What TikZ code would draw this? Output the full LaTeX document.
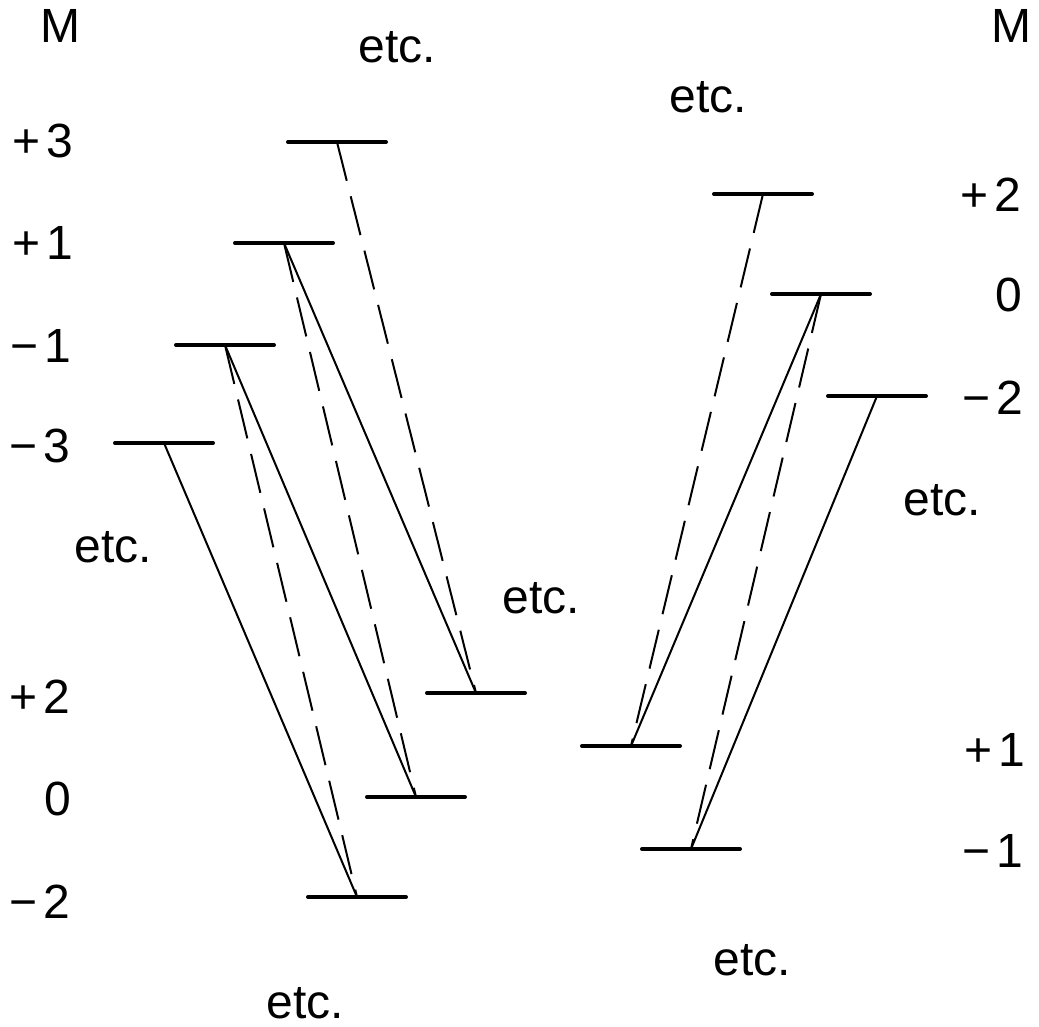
\documentclass[tikz,border=0pt]{standalone}
\usepackage{fontspec}
\setmainfont{Liberation Sans}
\newcommand{\sg}[2]{#1\hspace{3pt}#2}
\begin{document}
\begin{tikzpicture}[x=0.5pt,y=-0.5pt,
  lev/.style={draw, line width=2pt, line join=round, line cap=round,
    minimum width=49pt, minimum height=0pt, inner sep=0pt, outer sep=0pt},
  solidcon/.style={line width=1pt},
  dashcon/.style={line width=1pt, dash pattern=on 20pt off 8pt},
  lbl/.style={font=\fontsize{24}{29}\selectfont, inner sep=0pt}]
\useasboundingbox (0,0) rectangle (1039,1027);
\fill[white] (0,0) rectangle (1039,1027);
% left group, upper levels
\node[lev] (L3)  at (337,142) {};
\node[lev] (L1)  at (284,243) {};
\node[lev] (Lm1) at (225,345) {};
\node[lev] (Lm3) at (164,443) {};
% left group, lower levels
\node[lev] (B2)  at (476,693) {};
\node[lev] (B0)  at (416,797) {};
\node[lev] (Bm2) at (357,897) {};
% right group, upper levels
\node[lev] (R2)  at (763,194) {};
\node[lev] (R0)  at (821,294) {};
\node[lev] (Rm2) at (877,396) {};
% right group, lower levels
\node[lev] (S1)  at (631,746) {};
\node[lev] (Sm1) at (691,849) {};
% connectors left
\draw[solidcon] (Lm3.center) -- (Bm2.center);
\draw[dashcon]  (Lm1.center) -- (Bm2.center);
\draw[solidcon] (Lm1.center) -- (B0.center);
\draw[dashcon]  (L1.center) -- (B0.center);
\draw[solidcon] (L1.center) -- (B2.center);
\draw[dashcon]  (L3.center) -- (B2.center);
% connectors right
\draw[dashcon]  (R2.center) -- (S1.center);
\draw[solidcon] (R0.center) -- (S1.center);
\draw[dashcon]  (R0.center) -- (Sm1.center);
\draw[solidcon] (Rm2.center) -- (Sm1.center);
% headings
\node[lbl, anchor=base] (Ml) at (60,43) {M};
\node[lbl, anchor=base] (Mr) at (1011,43) {M};
% left labels
\node[lbl, anchor=base west] (tL3)  at (12,158) {\sg{+}{3}};
\node[lbl, anchor=base west] (tL1)  at (12,260) {\sg{+}{1}};
\node[lbl, anchor=base west] (tLm1) at (10,363) {\sg{−}{1}};
\node[lbl, anchor=base west] (tLm3) at (9,462) {\sg{−}{3}};
\node[lbl, anchor=base west] (tB2)  at (9,713) {\sg{+}{2}};
\node[lbl, anchor=base west] (tB0)  at (44,815) {0};
\node[lbl, anchor=base west] (tBm2) at (9,918) {\sg{−}{2}};
% right labels
\node[lbl, anchor=base west] (tR2)  at (960,212) {\sg{+}{2}};
\node[lbl, anchor=base west] (tR0)  at (995,312) {0};
\node[lbl, anchor=base west] (tRm2) at (962,415) {\sg{−}{2}};
\node[lbl, anchor=base west] (tS1)  at (964,766) {\sg{+}{1}};
\node[lbl, anchor=base west] (tSm1) at (962,867) {\sg{−}{1}};
% etc. labels
\node[lbl, anchor=base] (e1) at (397,63) {etc.};
\node[lbl, anchor=base] (e2) at (708,113) {etc.};
\node[lbl, anchor=base] (e3) at (113,562) {etc.};
\node[lbl, anchor=base] (e4) at (541,613) {etc.};
\node[lbl, anchor=base] (e5) at (942,515) {etc.};
\node[lbl, anchor=base] (e6) at (752,975) {etc.};
\node[lbl, anchor=base] (e7) at (305,1018) {etc.};
\end{tikzpicture}
\end{document}
